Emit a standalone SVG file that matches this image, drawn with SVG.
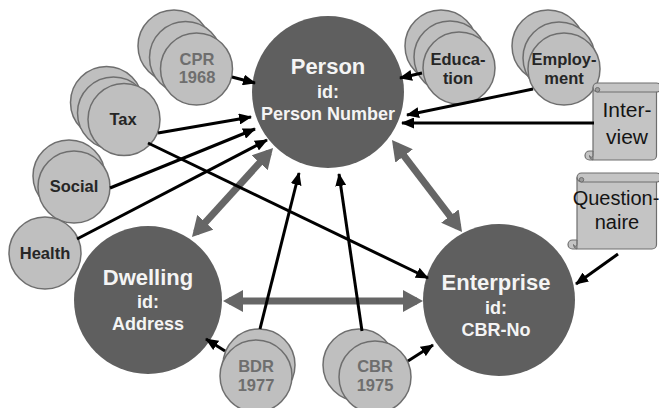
<svg xmlns="http://www.w3.org/2000/svg" width="659" height="408" viewBox="0 0 659 408">
<style>
.big{fill:#5f5f5f}
.sm{fill:#bfbfbf;stroke:#6e6e6e;stroke-width:1.5}
.tb{font-family:"Liberation Sans",Arial,sans-serif;font-weight:bold;fill:#f4f4f4;text-anchor:middle}
.ts{font-family:"Liberation Sans",Arial,sans-serif;font-weight:bold;font-size:16.5px;text-anchor:middle}
.dk{fill:#262626}
.gy{fill:#6e6e6e}
.scroll{fill:#c4c4c4;stroke:#6e6e6e;stroke-width:1.2;stroke-linejoin:round}
.curl{fill:#9a9a9a;stroke:#6e6e6e;stroke-width:1}
.tsc{font-family:"Liberation Sans",Arial,sans-serif;fill:#141414;text-anchor:middle}
.conn{stroke:#000;stroke-width:3;fill:none;marker-end:url(#ah)}
.dbl{stroke:#666;stroke-width:7;fill:none;marker-start:url(#gh);marker-end:url(#gh)}
</style>
<defs>
<marker id="ah" markerUnits="userSpaceOnUse" markerWidth="13" markerHeight="11" refX="12" refY="5.5" orient="auto"><path d="M0,0 L13,5.5 L0,11 z" fill="#000"/></marker>
<marker id="gh" markerUnits="userSpaceOnUse" markerWidth="20" markerHeight="22" refX="14" refY="11" orient="auto-start-reverse"><path d="M0,0 L20,11 L0,22 z" fill="#666"/></marker>
</defs>
<rect width="659" height="408" fill="#fff"/>

<g id="person"><circle class="big" cx="328" cy="92" r="76"/>
<text class="tb" x="328" y="74" font-size="22">Person</text>
<text class="tb" x="328" y="98" font-size="18">id:</text>
<text class="tb" x="328" y="120" font-size="18">Person Number</text></g>

<g id="dwelling"><circle class="big" cx="148" cy="300" r="74"/>
<text class="tb" x="148" y="285" font-size="22">Dwelling</text>
<text class="tb" x="148" y="308" font-size="18">id:</text>
<text class="tb" x="148" y="330" font-size="18">Address</text></g>

<g id="enterprise"><circle class="big" cx="499" cy="300" r="76"/>
<text class="tb" x="496" y="290" font-size="22">Enterprise</text>
<text class="tb" x="496" y="314" font-size="18">id:</text>
<text class="tb" x="496" y="336" font-size="18">CBR-No</text></g>

<g id="cpr"><circle class="sm" cx="174" cy="46" r="36"/><circle class="sm" cx="185.5" cy="57.5" r="36"/><circle class="sm" cx="196.5" cy="69" r="36"/>
<text class="ts gy" x="197" y="65">CPR</text><text class="ts gy" x="197" y="83">1968</text></g>

<g id="tax"><circle class="sm" cx="106.5" cy="102.5" r="36"/><circle class="sm" cx="113.5" cy="113" r="36"/><circle class="sm" cx="124" cy="119.5" r="36"/>
<text class="ts dk" x="123" y="125">Tax</text></g>

<g id="social"><circle class="sm" cx="69" cy="176" r="36"/><circle class="sm" cx="74" cy="187" r="36"/>
<text class="ts dk" x="74" y="192">Social</text></g>

<g id="health"><circle class="sm" cx="45" cy="253" r="36"/>
<text class="ts dk" x="45" y="259">Health</text></g>

<g id="education"><circle class="sm" cx="441" cy="46" r="36"/><circle class="sm" cx="450" cy="57" r="36"/><circle class="sm" cx="459" cy="68" r="36"/>
<text class="ts dk" x="458" y="65">Educa-</text><text class="ts dk" x="458" y="84">tion</text></g>

<g id="employment"><circle class="sm" cx="548" cy="46" r="36"/><circle class="sm" cx="559" cy="58" r="36"/><circle class="sm" cx="564" cy="69" r="36"/>
<text class="ts dk" x="564" y="65">Employ-</text><text class="ts dk" x="564" y="84">ment</text></g>

<g id="bdr"><circle class="sm" cx="259" cy="365" r="36"/><circle class="sm" cx="256" cy="376" r="36"/>
<text class="ts gy" x="256" y="372">BDR</text><text class="ts gy" x="256" y="391">1977</text></g>

<g id="cbr"><circle class="sm" cx="359" cy="365" r="36"/><circle class="sm" cx="375" cy="377" r="36"/>
<text class="ts gy" x="375" y="372">CBR</text><text class="ts gy" x="375" y="391">1975</text></g>

<g id="interview">
<path class="scroll" d="M593,87.5 A4.5,4.5 0 0 1 597.5,83 H656.5 A4.5,4.5 0 0 1 656.5,92 V155.5 A4.5,4.5 0 0 1 652,160 H589.5 A4.5,4.5 0 0 1 589.5,151 H593 Z"/>
<path fill="none" stroke="#6e6e6e" stroke-width="1.2" d="M597.5,92 H656.5 M597.5,92 A4.5,4.5 0 0 1 593,87.5"/>
<path class="curl" d="M597.5,92 A2.25,2.25 0 0 1 597.5,87.5 A2.25,2.25 0 0 1 597.5,92 Z"/>
<path class="curl" d="M593,151 V155.5 A1.75,1.75 0 0 1 589.5,155.5 A4.5,4.5 0 0 0 593,160 Z"/>
<text class="tsc" x="627" y="117" font-size="21">Inter-</text>
<text class="tsc" x="627" y="144" font-size="21">view</text></g>

<g id="questionnaire">
<path class="scroll" d="M577,177.5 A4.5,4.5 0 0 1 581.5,173 H656.5 A4.5,4.5 0 0 1 656.5,182 V244.5 A4.5,4.5 0 0 1 652,249 H572.5 A4.5,4.5 0 0 1 572.5,240 H577 Z"/>
<path fill="none" stroke="#6e6e6e" stroke-width="1.2" d="M581.5,182 H656.5 M581.5,182 A4.5,4.5 0 0 1 577,177.5"/>
<path class="curl" d="M581.5,182 A2.25,2.25 0 0 1 581.5,177.5 A2.25,2.25 0 0 1 581.5,182 Z"/>
<path class="curl" d="M577,240 V244.5 A1.75,1.75 0 0 1 573.5,244.5 A4.5,4.5 0 0 0 577,249 Z"/>
<text class="tsc" x="616" y="205" font-size="20">Question-</text>
<text class="tsc" x="617" y="229" font-size="20">naire</text></g>

<g id="connectors">
<line class="dbl" x1="269" y1="152.4" x2="196" y2="232.6"/>
<line class="dbl" x1="395.6" y1="144.8" x2="458.4" y2="227.2"/>
<line class="dbl" x1="229" y1="301" x2="417" y2="301"/>
<line class="conn" x1="232" y1="77" x2="255" y2="83"/>
<line class="conn" x1="158" y1="133" x2="251" y2="117"/>
<line class="conn" x1="110" y1="188" x2="255" y2="129"/>
<line class="conn" x1="77" y1="239" x2="267" y2="140"/>
<line class="conn" x1="148" y1="143" x2="428" y2="278"/>
<line class="conn" x1="422" y1="73" x2="400" y2="78"/>
<line class="conn" x1="533" y1="89" x2="407" y2="115"/>
<line class="conn" x1="594" y1="123" x2="402" y2="123"/>
<line class="conn" x1="618" y1="254" x2="576" y2="284"/>
<line class="conn" x1="260" y1="329" x2="299" y2="173"/>
<line class="conn" x1="362" y1="331" x2="339" y2="174"/>
<line class="conn" x1="225" y1="351" x2="206" y2="339"/>
<line class="conn" x1="408" y1="361" x2="433" y2="345"/>
</g>
</svg>
